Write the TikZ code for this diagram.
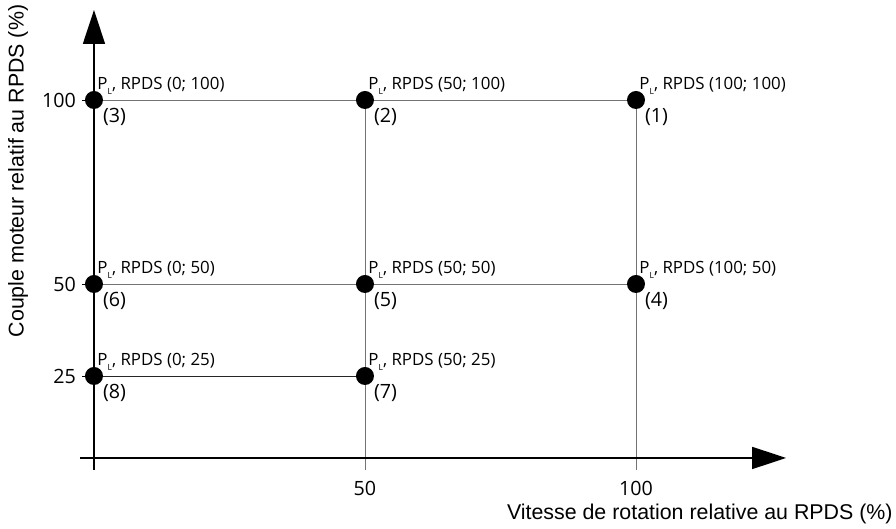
\documentclass[tikz,border=0pt]{standalone}
\usepackage{fontspec}
\setmainfont{Open Sans}
\newfontfamily\arialfont{Liberation Sans}
\usetikzlibrary{arrows.meta,calc}

\newcommand{\PL}{P\raisebox{-0.45ex}{\fontsize{6}{6}\selectfont L}}

\tikzset{
    dot/.style={circle, fill=black, inner sep=0pt, minimum size=0.45cm},
    grid/.style={draw=black!55, line width=0.6pt},
    axis/.style={line width=1.1pt, -{Triangle[length=0.85cm, width=0.55cm]}},
    pname/.style={font=\fontsize{12}{14}\selectfont, inner sep=0pt, anchor=base west},
    pnum/.style={font=\fontsize{14}{16}\selectfont, inner sep=0pt, anchor=west},
    ticklbl/.style={font=\fontsize{14}{16}\selectfont, inner sep=0pt},
    axtitle/.style={font=\arialfont\fontsize{15.2}{17}\selectfont, inner sep=0pt}
}

\begin{document}
\begin{tikzpicture}[x=0.1355cm, y=0.092cm]
            \useasboundingbox (-17.34,-16.58) rectangle (147.97,127.17);

            % Grid lines
            \draw[grid] (0,100) -- (100,100);
            \draw[grid] (0,50) -- (100,50);
            \draw[grid, draw=black!85] (0,25) -- (50,25);
            \draw[grid] (50,100) -- (50,-0.54);
            \draw[grid] (100,100) -- (100,-0.54);

            % Axes
            \coordinate (xs) at (-2.58,2.72);
            \coordinate (xe) at (127.7,2.72);
            \coordinate (ys) at (0,-0.54);
            \coordinate (ye) at (0,124.46);
            \draw[axis] (xs) -- (xe);
            \draw[axis] (ys) -- (ye);

            % Ticks on y axis
            \draw[line width=0.6pt] (-2.2,100) -- (0,100);
            \draw[line width=0.6pt] (-2.2,50) -- (0,50);
            \draw[line width=0.6pt] (-2.2,25) -- (0,25);
            \node[ticklbl, anchor=east] (t100) at (-3.3,100) {100};
            \node[ticklbl, anchor=east] (t50) at (-3.3,50) {50};
            \node[ticklbl, anchor=east] (t25) at (-3.3,25) {25};
            \node[ticklbl] (s50) at (50,-5.6) {50};
            \node[ticklbl] (s100) at (100,-5.6) {100};

            % Axis titles
            \node[axtitle, anchor=east] (xtitle) at (147.4,-12.5) {Vitesse de rotation relative au RPDS (\%)};
            \node[axtitle, rotate=90] (ytitle) at (-14.0,80.7) {Couple moteur relatif au RPDS (\%)};

            % Points
            \node[dot] (p1) at (100,100) {};
            \node[dot] (p2) at (50,100) {};
            \node[dot] (p3) at (0,100) {};
            \node[dot] (p4) at (100,50) {};
            \node[dot] (p5) at (50,50) {};
            \node[dot] (p6) at (0,50) {};
            \node[dot] (p7) at (50,25) {};
            \node[dot] (p8) at (0,25) {};

            % Point labels
            \node[pname] (n1) at ([shift={(0.08cm,0.25cm)}]p1.center) {\PL, RPDS (100; 100)};
            \node[pname] (n2) at ([shift={(0.08cm,0.25cm)}]p2.center) {\PL, RPDS (50; 100)};
            \node[pname] (n3) at ([shift={(0.08cm,0.25cm)}]p3.center) {\PL, RPDS (0; 100)};
            \node[pname] (n4) at ([shift={(0.08cm,0.25cm)}]p4.center) {\PL, RPDS (100; 50)};
            \node[pname] (n5) at ([shift={(0.08cm,0.25cm)}]p5.center) {\PL, RPDS (50; 50)};
            \node[pname] (n6) at ([shift={(0.08cm,0.25cm)}]p6.center) {\PL, RPDS (0; 50)};
            \node[pname] (n7) at ([shift={(0.08cm,0.25cm)}]p7.center) {\PL, RPDS (50; 25)};
            \node[pname] (n8) at ([shift={(0.08cm,0.25cm)}]p8.center) {\PL, RPDS (0; 25)};

            % Point numbers
            \node[pnum] (m1) at ([shift={(0.22cm,-0.43cm)}]p1.center) {(1)};
            \node[pnum] (m2) at ([shift={(0.22cm,-0.43cm)}]p2.center) {(2)};
            \node[pnum] (m3) at ([shift={(0.22cm,-0.43cm)}]p3.center) {(3)};
            \node[pnum] (m4) at ([shift={(0.22cm,-0.43cm)}]p4.center) {(4)};
            \node[pnum] (m5) at ([shift={(0.22cm,-0.43cm)}]p5.center) {(5)};
            \node[pnum] (m6) at ([shift={(0.22cm,-0.43cm)}]p6.center) {(6)};
            \node[pnum] (m7) at ([shift={(0.22cm,-0.43cm)}]p7.center) {(7)};
            \node[pnum] (m8) at ([shift={(0.22cm,-0.43cm)}]p8.center) {(8)};

\end{tikzpicture}
\end{document}
